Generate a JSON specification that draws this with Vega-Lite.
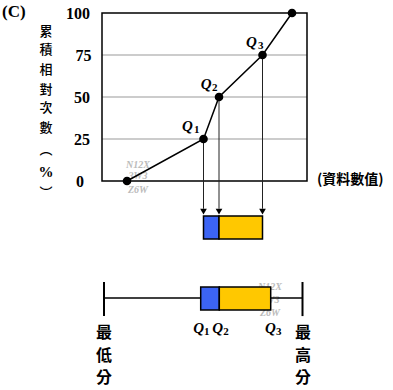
{
  "$schema": "https://vega.github.io/schema/vega-lite/v6.json",
  "width": 393,
  "height": 390,
  "padding": 0,
  "autosize": {"type": "none"},
  "background": "white",
  "config": {"view": {"stroke": null}},
  "datasets": {
    "curve": [{"x":127,"pct":0},{"x":203.5,"pct":25},{"x":219,"pct":50},{"x":262.5,"pct":75},{"x":292,"pct":100}],
    "frame": [{"x":102,"x2":307,"pct":0,"pct2":100}],
    "grid": [{"x":102,"x2":307,"pct":25},{"x":102,"x2":307,"pct":50},{"x":102,"x2":307,"pct":75}],
    "drops": [{"x":203.5,"pct":25,"pct2":-16.5},{"x":219,"pct":50,"pct2":-16.5},{"x":262.5,"pct":75,"pct2":-16.5}],
    "arrows": [{"x":203.5,"pct":-18.2},{"x":219,"pct":-18.2},{"x":262.5,"pct":-18.2}],
    "boxes": [
      {"x":203.5,"x2":219,"pct":-20.8,"pct2":-34.5,"part":"lo"},
      {"x":219,"x2":262.5,"pct":-20.8,"pct2":-34.5,"part":"hi"},
      {"x":200.7,"x2":219.3,"pct":-63.1,"pct2":-76.8,"part":"lo"},
      {"x":219.3,"x2":270.7,"pct":-63.1,"pct2":-76.8,"part":"hi"}
    ],
    "whisker": [{"x":104,"x2":302.5,"pct":-69.6}],
    "caps": [{"x":104,"pct":-60.1,"pct2":-80.4},{"x":302.5,"pct":-60.1,"pct2":-80.4}],
    "ticks": [{"x":90,"pct":100,"label":"100"},{"x":91.5,"pct":75,"label":"75"},{"x":90,"pct":50,"label":"50"},{"x":90,"pct":25,"label":"25"},{"x":84,"pct":0,"label":"0"}],
    "ytitle": [{"x":46,"pct":88.69,"label":"累"},{"x":46,"pct":77.98,"label":"積"},{"x":46,"pct":66.07,"label":"相"},{"x":46,"pct":54.17,"label":"對"},{"x":46,"pct":43.45,"label":"次"},{"x":46,"pct":31.55,"label":"數"},{"x":46,"pct":18.5,"label":"︵"},{"x":46,"pct":-7.2,"label":"︶"}],
    "percent": [{"x":46,"pct":5.36,"label":"%"}],
    "xtitle": [{"x":317,"pct":0.6,"label":"(資料數值)"}],
    "panel": [{"x":2,"pct":100.6,"label":"(C)"}],
    "qletters": [{"x":182,"pct":29.76},{"x":200.7,"pct":54.76},{"x":246,"pct":79.76},{"x":193.3,"pct":-90.48},{"x":212.3,"pct":-90.48},{"x":265,"pct":-90.48}],
    "qsubs": [{"x":194,"pct":28.57,"label":"1"},{"x":212,"pct":53.57,"label":"2"},{"x":258,"pct":78.57,"label":"3"},{"x":204,"pct":-91.67,"label":"1"},{"x":223.3,"pct":-91.67,"label":"2"},{"x":276,"pct":-91.67,"label":"3"}],
    "ends": [{"x":104,"pct":-90.48,"label":"最"},{"x":104,"pct":-104.17,"label":"低"},{"x":104,"pct":-117.26,"label":"分"},{"x":303,"pct":-90.48,"label":"最"},{"x":303,"pct":-104.17,"label":"高"},{"x":303,"pct":-117.26,"label":"分"}],
    "watermark": [{"x":138,"pct":9.82,"label":"N12X"},{"x":138,"pct":3.27,"label":"3W3"},{"x":138,"pct":-5.65,"label":"Z6W"},{"x":270,"pct":-63.1,"label":"N12X"},{"x":270,"pct":-70.83,"label":"3W3"},{"x":270,"pct":-78.57,"label":"Z6W"}]
  },
  "encoding": {
    "x": {"field": "x", "type": "quantitative", "scale": {"domain": [0, 393], "nice": false, "zero": false}, "axis": null},
    "y": {"field": "pct", "type": "quantitative", "scale": {"domain": [-124.4, 107.74], "nice": false, "zero": false}, "axis": null}
  },
  "layer": [
    {"data": {"name": "grid"}, "mark": {"type": "rule", "color": "#999999", "strokeWidth": 1}, "encoding": {"x2": {"field": "x2"}}},
    {"data": {"name": "frame"}, "mark": {"type": "rect", "fillOpacity": 0, "stroke": "black", "strokeWidth": 1.5}, "encoding": {"x2": {"field": "x2"}, "y2": {"field": "pct2"}}},
    {"data": {"name": "watermark"}, "mark": {"type": "text", "font": "Liberation Serif", "fontStyle": "italic", "fontWeight": "bold", "fontSize": 10, "color": "#bbbbbb", "align": "center", "baseline": "middle"}, "encoding": {"text": {"field": "label"}}},
    {"data": {"name": "drops"}, "mark": {"type": "rule", "color": "#222222", "strokeWidth": 1}, "encoding": {"y2": {"field": "pct2"}}},
    {"data": {"name": "curve"}, "mark": {"type": "line", "color": "black", "strokeWidth": 1.5}, "encoding": {}},
    {"data": {"name": "curve"}, "mark": {"type": "point", "filled": true, "color": "black", "size": 75, "opacity": 1}, "encoding": {}},
    {"data": {"name": "arrows"}, "mark": {"type": "point", "shape": "triangle-down", "filled": true, "color": "black", "size": 45, "opacity": 1}, "encoding": {}},
    {"data": {"name": "whisker"}, "mark": {"type": "rule", "color": "black", "strokeWidth": 1.5}, "encoding": {"x2": {"field": "x2"}}},
    {"data": {"name": "caps"}, "mark": {"type": "rule", "color": "black", "strokeWidth": 2}, "encoding": {"y2": {"field": "pct2"}}},
    {"data": {"name": "boxes"}, "mark": {"type": "rect", "stroke": "black", "strokeWidth": 1.5, "opacity": 1}, "encoding": {"x2": {"field": "x2"}, "y2": {"field": "pct2"}, "fill": {"field": "part", "type": "nominal", "scale": {"domain": ["lo", "hi"], "range": ["#3C64F4", "#FFC800"]}, "legend": null}}},
    {"data": {"name": "ticks"}, "mark": {"type": "text", "font": "Liberation Serif", "fontWeight": "bold", "fontSize": 16, "align": "right", "baseline": "middle", "dy": 1, "color": "black"}, "encoding": {"text": {"field": "label"}}},
    {"data": {"name": "ytitle"}, "mark": {"type": "text", "font": "Noto Sans CJK TC", "fontWeight": 500, "fontSize": 13, "align": "center", "baseline": "middle", "color": "black"}, "encoding": {"text": {"field": "label"}}},
    {"data": {"name": "percent"}, "mark": {"type": "text", "font": "Liberation Serif", "fontWeight": "bold", "fontSize": 15, "align": "center", "baseline": "middle", "color": "black"}, "encoding": {"text": {"field": "label"}}},
    {"data": {"name": "xtitle"}, "mark": {"type": "text", "font": "Noto Sans CJK TC", "fontWeight": "bold", "fontSize": 14, "align": "left", "baseline": "middle", "color": "black"}, "encoding": {"text": {"field": "label"}}},
    {"data": {"name": "panel"}, "mark": {"type": "text", "font": "Liberation Serif", "fontWeight": "bold", "fontSize": 17, "align": "left", "baseline": "middle", "color": "black"}, "encoding": {"text": {"field": "label"}}},
    {"data": {"name": "qletters"}, "mark": {"type": "text", "font": "Liberation Serif", "fontWeight": "bold", "fontStyle": "italic", "fontSize": 15, "align": "left", "baseline": "alphabetic", "color": "black"}, "encoding": {"text": {"value": "Q"}}},
    {"data": {"name": "qsubs"}, "mark": {"type": "text", "font": "Liberation Serif", "fontWeight": "bold", "fontSize": 11, "align": "left", "baseline": "alphabetic", "color": "black"}, "encoding": {"text": {"field": "label"}}},
    {"data": {"name": "ends"}, "mark": {"type": "text", "font": "Noto Sans CJK TC", "fontWeight": "bold", "fontSize": 16, "align": "center", "baseline": "middle", "color": "black"}, "encoding": {"text": {"field": "label"}}}
  ]
}
